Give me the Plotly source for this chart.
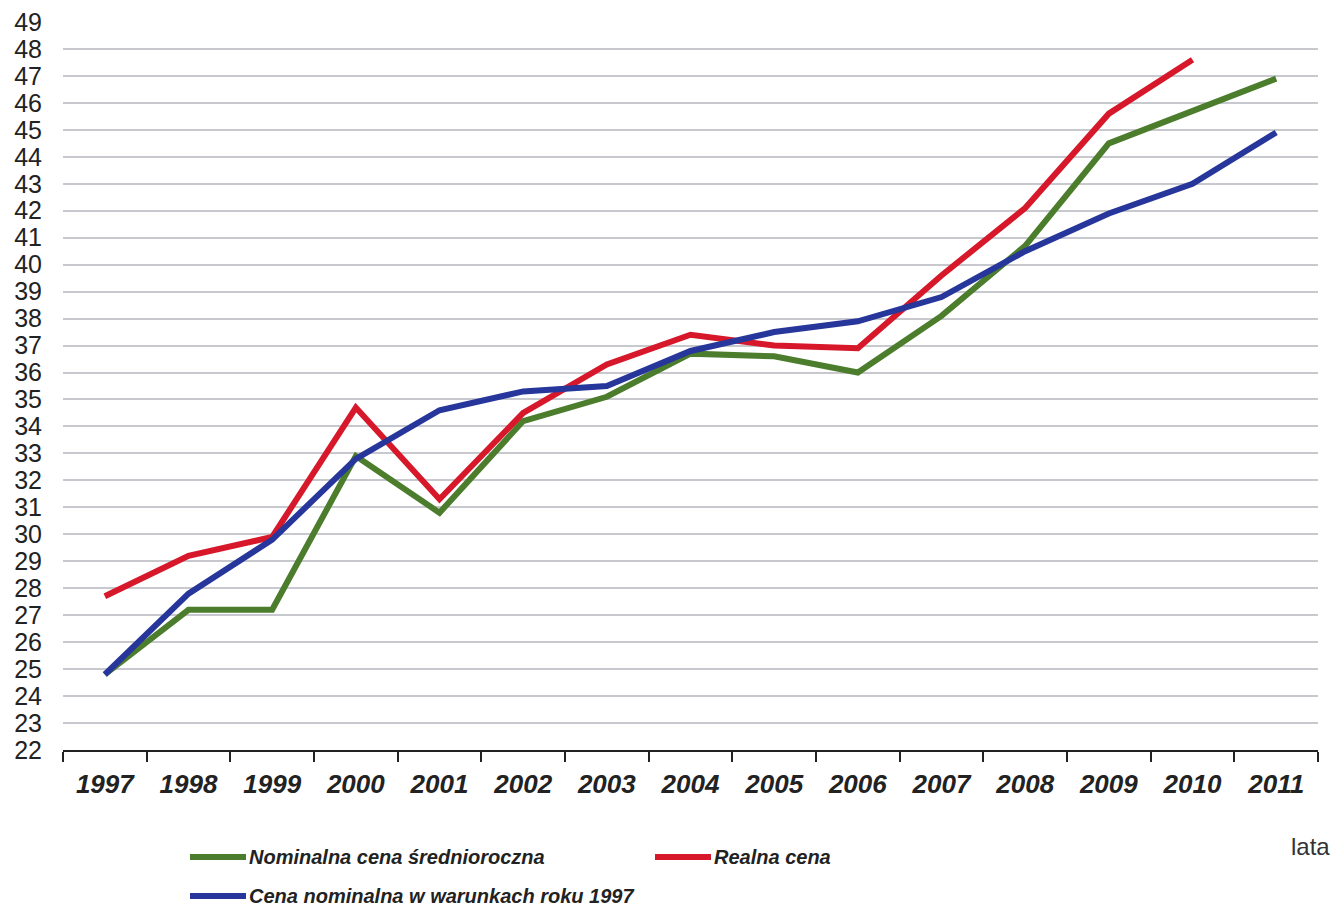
import plotly.graph_objects as go

years = ["1997", "1998", "1999", "2000", "2001", "2002", "2003", "2004",
         "2005", "2006", "2007", "2008", "2009", "2010", "2011"]
nominal_avg = [24.8, 27.2, 27.2, 32.9, 30.8, 34.2, 35.1, 36.7, 36.6, 36.0,
               38.1, 40.7, 44.5, 45.7, 46.9]
real_price = [27.7, 29.2, 29.9, 34.7, 31.3, 34.5, 36.3, 37.4, 37.0, 36.9,
              39.6, 42.1, 45.6, 47.6, None]
nominal_1997 = [24.8, 27.8, 29.8, 32.8, 34.6, 35.3, 35.5, 36.8, 37.5, 37.9,
                38.8, 40.5, 41.9, 43.0, 44.9]
y_ticks = list(range(22, 50))

names = ["Nominalna cena średnioroczna", "Realna cena",
         "Cena nominalna w warunkach roku 1997"]
colors = ["#4b7d2c", "#d7182a", "#27369a"]
series = [nominal_avg, real_price, nominal_1997]

W, H = 1335, 910
ml, mr, mt, mb = 63, 17, 22, 160
pw, ph = W - ml - mr, H - mt - mb

def px2x(px):
    return (px - ml) / pw

def px2y(py):
    return (H - mb - py) / ph

fig = go.Figure()
for name, col, vals in zip(names, colors, series):
    fig.add_trace(go.Scatter(x=years, y=vals, mode="lines", name=name,
                             line=dict(color=col, width=6), showlegend=False))

# manual legend (line sample + label)
leg_pos = [(190, 857), (655, 857), (190, 896)]
shapes, annotations = [], []
legfont = dict(family="Liberation Sans, Arial", size=20, color="#222",
               weight="bold", style="italic")
for name, col, (lx, ly) in zip(names, colors, leg_pos):
    shapes.append(dict(type="line", xref="paper", yref="paper",
                       x0=px2x(lx), x1=px2x(lx + 56), y0=px2y(ly), y1=px2y(ly),
                       line=dict(color=col, width=6)))
    annotations.append(dict(text=name, x=px2x(lx + 57), y=px2y(ly),
                            xref="paper", yref="paper", showarrow=False,
                            xanchor="left", yanchor="middle", font=legfont))
annotations.append(dict(text="lata", x=px2x(1310), y=px2y(846),
                        xref="paper", yref="paper", showarrow=False,
                        xanchor="center", yanchor="middle",
                        font=dict(family="Liberation Sans, Arial", size=24,
                                  color="#333")))

fig.update_layout(
    width=W, height=H,
    margin=dict(l=ml, r=mr, t=mt, b=mb, autoexpand=False),
    paper_bgcolor="white", plot_bgcolor="white",
    showlegend=False,
    font=dict(family="Liberation Sans, Arial", color="#222"),
    xaxis=dict(type="category", range=[-0.5, 14.5], tickson="boundaries",
               ticks="outside", ticklen=10, tickwidth=1.5, tickcolor="#222",
               showline=True, linecolor="#222", linewidth=1.5,
               showgrid=False,
               tickfont=dict(family="Liberation Sans, Arial", size=26,
                             color="#222", weight="bold", style="italic"),
               ticklabelstandoff=10),
    yaxis=dict(range=[22, 49], tickvals=y_ticks, showgrid=True,
               gridcolor="#c8c8cf", gridwidth=2, zeroline=False,
               showline=False, ticks="",
               tickfont=dict(family="Liberation Sans, Arial", size=25,
                             color="#222"),
               ticklabelstandoff=20),
    shapes=shapes,
    annotations=annotations,
)

fig.write_html("out.html")
